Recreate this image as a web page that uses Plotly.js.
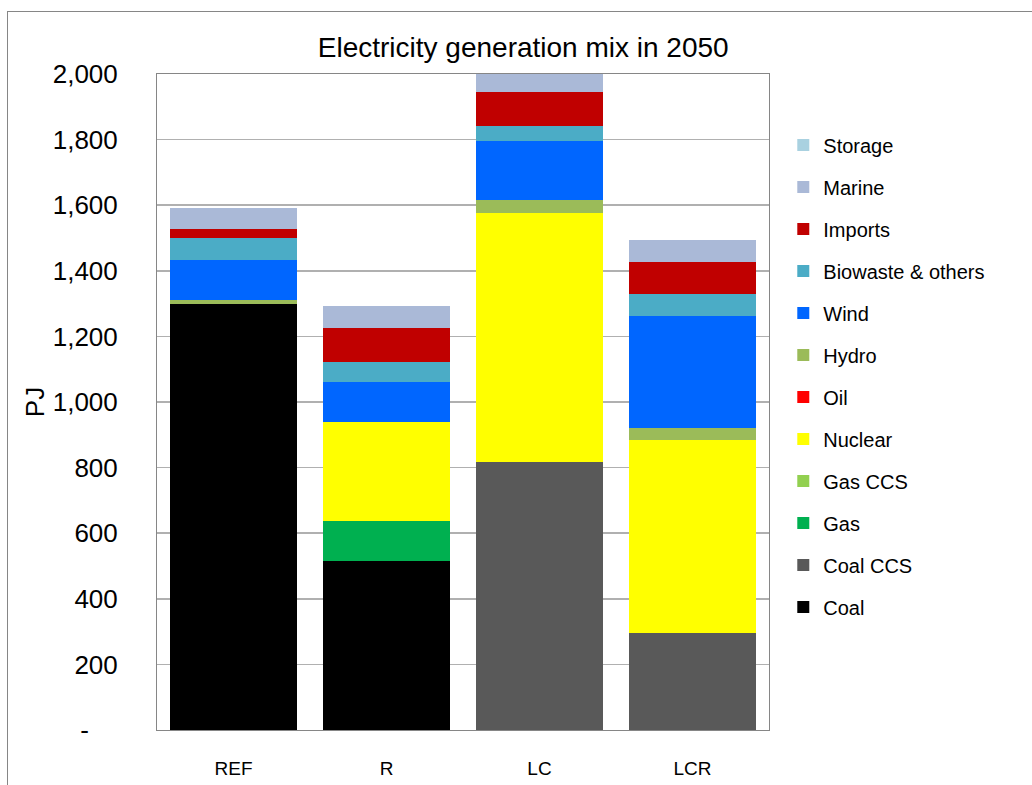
<!DOCTYPE html>
<html>
<head>
<meta charset="utf-8">
<script src="https://cdn.plot.ly/plotly-3.0.1.min.js"></script>
<style>
  html, body { margin: 0; padding: 0; background: #ffffff; }
  #frame { position: absolute; left: 7px; top: 11px; width: 1100px; height: 800px;
           border-left: 1px solid #868686; border-top: 1px solid #868686; }
  #chart { position: absolute; left: 0; top: 0; width: 1032px; height: 785px; }
</style>
</head>
<body>
<div id="frame"></div>
<div id="chart"></div>
<script>
// Data (PJ)
const categories = ['REF', 'R', 'LC', 'LCR'];
const coal     = [1300, 515,   0,   0];
const coalCCS  = [   0,   0, 817, 296];
const gas      = [   0, 122,   0,   0];
const gasCCS   = [   0,   0,   0,   0];
const nuclear  = [   0, 302, 759, 588];
const oil      = [   0,   0,   0,   0];
const hydro    = [  12,   0,  40,  37];
const wind     = [ 122, 122, 180, 341];
const biowaste = [  67,  61,  45,  67];
const imports  = [  27, 104, 104,  98];
const marine   = [  64,  67,  61,  67];
const storage  = [   0,   0,   0,   0];

const seriesNames = ['Coal', 'Coal CCS', 'Gas', 'Gas CCS', 'Nuclear', 'Oil', 'Hydro', 'Wind',
                     'Biowaste & others', 'Imports', 'Marine', 'Storage'];
const seriesValues = [coal, coalCCS, gas, gasCCS, nuclear, oil, hydro, wind, biowaste, imports, marine, storage];
const seriesColors = ['#000000', '#595959', '#00b050', '#92d050', '#ffff00', '#ff0000', '#9bbb59', '#0066ff',
                      '#4bacc6', '#c00000', '#aab9d7', '#a9d1e0'];

const yTickVals = [0, 200, 400, 600, 800, 1000, 1200, 1400, 1600, 1800, 2000];
const yTickText = ['-\u00a0\u00a0\u00a0\u00a0', '200', '400', '600', '800', '1,000', '1,200', '1,400', '1,600', '1,800', '2,000'];

const FONT = 'Liberation Sans, Arial, sans-serif';

const traces = seriesNames.map((name, i) => ({
  type: 'bar',
  name: name,
  x: categories,
  y: seriesValues[i],
  marker: { color: seriesColors[i], line: { width: 0 } },
  legendgroup: 'g' + i,
  legendrank: (seriesNames.length - i) * 10,
  hoverinfo: 'x+y+name'
}));

const layout = {
  width: 1032,
  height: 785,
  barmode: 'stack',
  bargap: 0.17,
  paper_bgcolor: 'rgba(0,0,0,0)',
  plot_bgcolor: '#ffffff',
  margin: { l: 157, r: 263, t: 74, b: 55, pad: 0 },
  title: {
    text: 'Electricity generation mix in 2050',
    font: { family: FONT, size: 28, color: '#000000' },
    x: 0.507, xref: 'container', xanchor: 'center',
    y: 0.94, yref: 'container', yanchor: 'middle'
  },
  xaxis: {
    type: 'category',
    tickfont: { family: FONT, size: 19, color: '#000000' },
    ticks: '',
    ticklabelstandoff: 21,
    showline: true, linecolor: '#868686', linewidth: 1, mirror: true,
    showgrid: false
  },
  yaxis: {
    range: [0, 2000],
    tickvals: yTickVals,
    ticktext: yTickText,
    tickfont: { family: FONT, size: 26, color: '#000000' },
    ticks: '',
    ticklabelstandoff: 33,
    showline: true, linecolor: '#868686', linewidth: 1, mirror: true,
    showgrid: true, gridcolor: '#b0b0b0', gridwidth: 1.5,
    zeroline: false,
    title: { text: 'PJ', font: { family: FONT, size: 26, color: '#000000' }, standoff: 0 }
  },
  legend: {
    traceorder: 'grouped',
    tracegroupgap: 13,
    maxheight: 700,
    font: { family: FONT, size: 20, color: '#000000' },
    xref: 'container', x: 0.759, xanchor: 'left',
    yref: 'container', y: 0.840, yanchor: 'top',
    bgcolor: 'rgba(0,0,0,0)',
    borderwidth: 0
  },
  showlegend: true
};

Plotly.newPlot('chart', traces, layout, { displayModeBar: false, staticPlot: true });
</script>
</body>
</html>
